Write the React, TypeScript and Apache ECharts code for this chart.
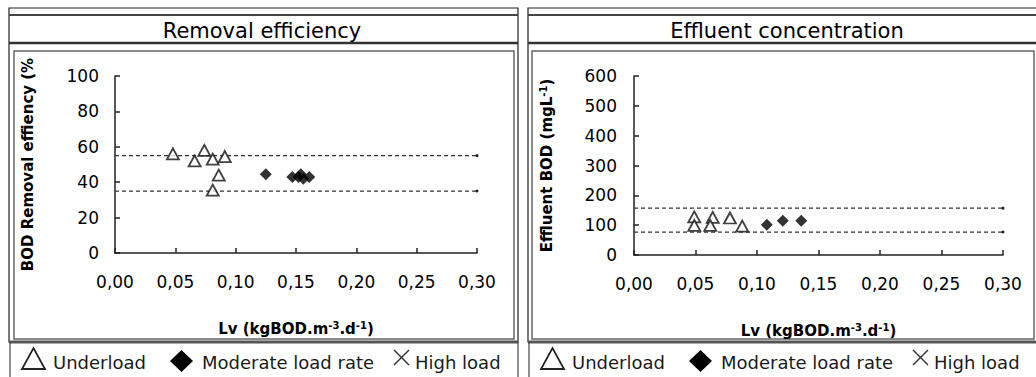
import React, { useEffect, useRef } from "react";
import * as echarts from "echarts";

// ---- data ----
const xTicks = [0, 0.05, 0.1, 0.15, 0.2, 0.25, 0.3];

// Removal efficiency (%)
const effUnderX = [0.048, 0.066, 0.074, 0.081, 0.091, 0.086, 0.081];
const effUnderY = [56, 52, 58, 53, 54.5, 44, 35.5];
const effModX = [0.125, 0.147, 0.152, 0.154, 0.156, 0.161];
const effModY = [44.5, 43, 43, 44.5, 42, 43];
const effLimits = [55, 35];

// Effluent BOD (mg/L)
const bodUnderX = [0.049, 0.049, 0.064, 0.062, 0.078, 0.088];
const bodUnderY = [128, 99, 126, 99, 124, 97];
const bodModX = [0.108, 0.121, 0.136];
const bodModY = [101, 115, 115];
const bodLimits = [157, 77];

const legendNames = ["Underload", "Moderate load rate", "High load"];
const titles = ["Removal efficiency", "Effluent concentration"];

const FONT = "DejaVu Sans";

function pairs(xs: number[], ys: number[]) {
  return xs.map((x, i) => [x, ys[i]]);
}

function limitLine(v: number, idx: number) {
  return {
    type: "line",
    xAxisIndex: idx,
    yAxisIndex: idx,
    data: [
      { value: [xTicks[0], v], symbol: "none" },
      { value: [xTicks[xTicks.length - 1], v] },
    ],
    symbol: "circle",
    symbolSize: 3,
    itemStyle: { color: "#222" },
    lineStyle: { color: "#333", width: 1.3, type: [4, 3] },
    silent: true,
    z: 1,
  };
}

function legendGraphics(ox: number) {
  const y = 361;
  const ts = { fontSize: 18, fontFamily: FONT, fill: "#1a1a1a", verticalAlign: "middle" };
  return [
    {
      type: "polygon",
      shape: { points: [[ox + 22, y + 8], [ox + 45, y + 8], [ox + 33.5, y - 13]] },
      style: { fill: "none", stroke: "#222", lineWidth: 1.8 },
    },
    { type: "text", x: ox + 53, y: y + 1, style: { ...ts, text: legendNames[0] } },
    {
      type: "polygon",
      shape: { points: [[ox + 170, y], [ox + 181.5, y - 11], [ox + 193, y], [ox + 181.5, y + 11]] },
      style: { fill: "#000" },
    },
    { type: "text", x: ox + 202, y: y + 1, style: { ...ts, text: legendNames[1] } },
    {
      type: "line",
      shape: { x1: ox + 394, y1: y - 11, x2: ox + 409, y2: y + 4 },
      style: { stroke: "#333", lineWidth: 1.4 },
    },
    {
      type: "line",
      shape: { x1: ox + 409, y1: y - 11, x2: ox + 394, y2: y + 4 },
      style: { stroke: "#333", lineWidth: 1.4 },
    },
    { type: "text", x: ox + 415, y: y + 1, style: { ...ts, text: legendNames[2] } },
  ];
}

function frameGraphics(x0: number, x1: number, innerL: number, innerR: number) {
  return [
    { type: "rect", shape: { x: x0, y: 8, width: x1 - x0, height: 334 }, style: { fill: "none", stroke: "#222", lineWidth: 1.2 } },
    { type: "line", shape: { x1: x0, y1: 15, x2: x1, y2: 15 }, style: { stroke: "#444", lineWidth: 2 } },
    { type: "line", shape: { x1: x0, y1: 43, x2: x1, y2: 43 }, style: { stroke: "#333", lineWidth: 2.5 } },
    { type: "rect", shape: { x: innerL, y: 51, width: innerR - innerL, height: 288 }, style: { fill: "none", stroke: "#666", lineWidth: 1.5 } },
    { type: "line", shape: { x1: x0, y1: 342, x2: x1, y2: 342 }, style: { stroke: "#555", lineWidth: 3 } },
    { type: "line", shape: { x1: x0 + 1, y1: 342, x2: x0 + 1, y2: 377 }, style: { stroke: "#444", lineWidth: 1.2 } },
    { type: "line", shape: { x1: x1, y1: 342, x2: x1, y2: 377 }, style: { stroke: "#444", lineWidth: 1.2 } },
  ];
}

const axisCommon = {
  axisLine: { lineStyle: { color: "#222", width: 1.5 } },
  axisTick: { inside: true, length: 5, lineStyle: { color: "#222", width: 1.5 } },
  splitLine: { show: false },
};

const tickLabel = { color: "#000", fontSize: 17, fontFamily: FONT };

const nameRich = {
  sup: { fontSize: 10, fontWeight: "bold", fontFamily: FONT, color: "#000", verticalAlign: "top", lineHeight: 18 },
};

export default function App() {
  const ref = useRef<HTMLDivElement>(null);
  useEffect(() => {
    if (!ref.current) return;
    const chart = echarts.init(ref.current, null, { renderer: "svg" });
    const xAxisFor = (idx: number) => ({
      type: "value",
      gridIndex: idx,
      min: xTicks[0],
      max: xTicks[xTicks.length - 1],
      interval: 0.05,
      ...axisCommon,
      axisLabel: {
        ...tickLabel,
        margin: 20,
        formatter: (v: number) => v.toFixed(2).replace(".", ","),
      },
      name: "Lv (kgBOD.m{sup|-3}.d{sup|-1})",
      nameLocation: "middle",
      nameGap: 67,
      nameTextStyle: { fontSize: 15, fontWeight: "bold", fontFamily: FONT, color: "#000", rich: nameRich, lineHeight: 18 },
    });
    const option = {
      animation: false,
      backgroundColor: "#fff",
      grid: [
        { left: 115, top: 76, width: 362, height: 177 },
        { left: 634, top: 76, width: 369, height: 179 },
      ],
      xAxis: [xAxisFor(0), xAxisFor(1)],
      yAxis: [
        {
          type: "value",
          gridIndex: 0,
          min: 0,
          max: 100,
          interval: 20,
          ...axisCommon,
          axisLabel: { ...tickLabel, margin: 16 },
          name: "BOD Removal effiency (%",
          nameLocation: "middle",
          nameGap: 80,
          nameTextStyle: { fontSize: 15, fontWeight: "bold", fontFamily: FONT, color: "#000" },
        },
        {
          type: "value",
          gridIndex: 1,
          min: 0,
          max: 600,
          interval: 100,
          ...axisCommon,
          axisLabel: { ...tickLabel, margin: 17 },
          name: "Effluent BOD (mgL{sup|-1})",
          nameLocation: "middle",
          nameGap: 78,
          nameTextStyle: { fontSize: 15, fontWeight: "bold", fontFamily: FONT, color: "#000", rich: nameRich, lineHeight: 18 },
        },
      ],
      series: [
        limitLine(effLimits[0], 0),
        limitLine(effLimits[1], 0),
        limitLine(bodLimits[0], 1),
        limitLine(bodLimits[1], 1),
        {
          name: legendNames[0],
          type: "scatter",
          xAxisIndex: 0,
          yAxisIndex: 0,
          data: pairs(effUnderX, effUnderY),
          symbol: "triangle",
          symbolSize: [12, 11],
          itemStyle: { color: "#fff", borderColor: "#111", borderWidth: 1.8 },
          z: 3,
        },
        {
          name: legendNames[1],
          type: "scatter",
          xAxisIndex: 0,
          yAxisIndex: 0,
          data: pairs(effModX, effModY),
          symbol: "diamond",
          symbolSize: [12, 12],
          itemStyle: { color: "#000" },
          z: 3,
        },
        {
          name: legendNames[0],
          type: "scatter",
          xAxisIndex: 1,
          yAxisIndex: 1,
          data: pairs(bodUnderX, bodUnderY),
          symbol: "triangle",
          symbolSize: [12, 11],
          itemStyle: { color: "#fff", borderColor: "#111", borderWidth: 1.8 },
          z: 3,
        },
        {
          name: legendNames[1],
          type: "scatter",
          xAxisIndex: 1,
          yAxisIndex: 1,
          data: pairs(bodModX, bodModY),
          symbol: "diamond",
          symbolSize: [12, 12],
          itemStyle: { color: "#000" },
          z: 3,
        },
      ],
      graphic: [
        ...frameGraphics(9, 518, 14, 514),
        ...frameGraphics(528, 1045, 532, 1034),
        {
          type: "text",
          x: 262,
          y: 31,
          style: { text: titles[0], fontSize: 21, fontFamily: FONT, fill: "#000", align: "center", verticalAlign: "middle" },
        },
        {
          type: "text",
          x: 787,
          y: 31,
          style: { text: titles[1], fontSize: 21, fontFamily: FONT, fill: "#000", align: "center", verticalAlign: "middle" },
        },
        ...legendGraphics(0),
        ...legendGraphics(519),
      ],
    };
    chart.setOption(option as any);
    return () => chart.dispose();
  }, []);
  return (
    <div
      ref={ref}
      style={{ position: "fixed", left: 0, top: 0, width: 1036, height: 377, background: "#fff" }}
    />
  );
}
